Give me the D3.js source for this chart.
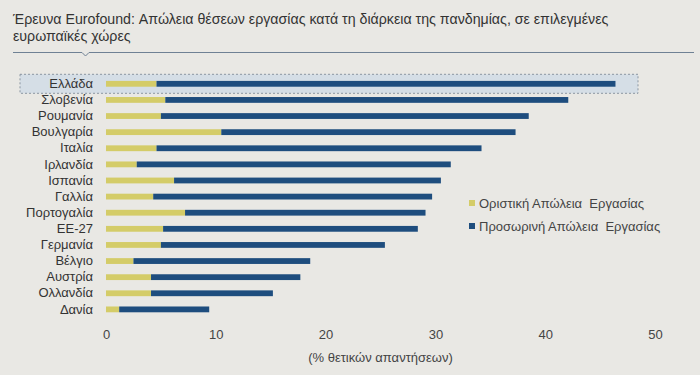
<!DOCTYPE html>
<html>
<head>
<meta charset="utf-8">
<script src="https://cdn.jsdelivr.net/npm/d3@7"></script>
<style>
  body { margin: 0; background: #e9e8e4; }
  svg { display: block; font-family: "Liberation Sans", Arial, sans-serif; }
</style>
</head>
<body>
<svg id="chart" width="700" height="375"></svg>
<script>
// data
var countries = ["Ελλάδα", "Σλοβενία", "Ρουμανία", "Βουλγαρία", "Ιταλία", "Ιρλανδία", "Ισπανία",
                 "Γαλλία", "Πορτογαλία", "ΕΕ-27", "Γερμανία", "Βέλγιο", "Αυστρία", "Ολλανδία", "Δανία"];
var permanent = [4.6, 5.4, 5.0, 10.5, 4.6, 2.8, 6.2, 4.3, 7.2, 5.2, 5.0, 2.5, 4.1, 4.1, 1.2];
var temporary = [41.8, 36.7, 33.5, 26.8, 29.6, 28.6, 24.3, 25.4, 21.9, 23.2, 20.4, 16.1, 13.6, 11.1, 8.2];
var seriesNames = ["Οριστική Απώλεια  Εργασίας", "Προσωρινή Απώλεια  Εργασίας"];
var xTicks = [0, 10, 20, 30, 40, 50];
var titleLines = ["Έρευνα Eurofound: Απώλεια θέσεων εργασίας κατά τη διάρκεια της πανδημίας, σε επιλεγμένες",
                  "ευρωπαϊκές χώρες"];
var xLabel = "(% θετικών απαντήσεων)";
var highlight = "Ελλάδα";

var colors = ["#d4cc68", "#1e4d7e"];

var svg = d3.select("#chart");

// title
svg.selectAll("text.title").data(titleLines).enter().append("text")
  .attr("class", "title")
  .attr("x", 13)
  .attr("y", function(d, i) { return 24 + i * 17; })
  .style("font-size", "14.2px")
  .style("fill", "#333")
  .text(function(d) { return d; });

// rule under title with small notch
svg.append("path")
  .attr("d", "M13,52.5 H82 L85.5,56 L89,52.5 H694")
  .style("fill", "none")
  .style("stroke", "#6f8194")
  .style("stroke-width", 1);

var x = d3.scaleLinear().domain([0, 50]).range([106, 655]);
var y = d3.scaleBand().domain(countries).range([70.6, 322.6]).padding(0.64);

var rows = countries.map(function(c, i) {
  return { name: c, p: permanent[i], t: temporary[i] };
});

// highlight box
svg.append("rect")
  .attr("x", 20).attr("y", y(highlight) + y.bandwidth() / 2 - 9.5)
  .attr("width", 618).attr("height", 19)
  .style("fill", "#d5dee6")
  .style("stroke", "#8b96a2")
  .style("stroke-dasharray", "2,2")
  .style("stroke-width", 1);

// bars
var g = svg.append("g");
g.selectAll("rect.p").data(rows).enter().append("rect")
  .attr("class", "p")
  .attr("x", x(0))
  .attr("y", function(d) { return y(d.name); })
  .attr("width", function(d) { return x(d.p) - x(0); })
  .attr("height", y.bandwidth())
  .style("fill", colors[0]);

g.selectAll("rect.t").data(rows).enter().append("rect")
  .attr("class", "t")
  .attr("x", function(d) { return x(d.p); })
  .attr("y", function(d) { return y(d.name); })
  .attr("width", function(d) { return x(d.p + d.t) - x(d.p); })
  .attr("height", y.bandwidth())
  .style("fill", colors[1]);

// category labels
var yAxis = svg.append("g")
  .attr("transform", "translate(99,0)")
  .call(d3.axisLeft(y).tickSize(0).tickPadding(6));
yAxis.select(".domain").remove();
yAxis.selectAll("text")
  .style("font-size", "13px")
  .style("fill", "#333")
  .style("font-family", "Liberation Sans, Arial, sans-serif");

// x axis
var xAxis = svg.append("g")
  .attr("transform", "translate(0,330)")
  .call(d3.axisBottom(x).tickValues(xTicks).tickSize(0).tickPadding(0));
xAxis.select(".domain").remove();
xAxis.selectAll("text")
  .style("font-size", "13px")
  .style("fill", "#444")
  .style("font-family", "Liberation Sans, Arial, sans-serif");

svg.append("text")
  .attr("x", x(25)).attr("y", 362)
  .attr("text-anchor", "middle")
  .style("font-size", "13px")
  .style("fill", "#444")
  .text(xLabel);

// legend
var leg = svg.selectAll("g.leg").data(seriesNames).enter().append("g")
  .attr("class", "leg")
  .attr("transform", function(d, i) { return "translate(469," + (203 + i * 23) + ")"; });
leg.append("rect")
  .attr("x", 0).attr("y", -3).attr("width", 6).attr("height", 6)
  .style("fill", function(d, i) { return colors[i]; });
leg.append("text")
  .attr("x", 10).attr("dy", "0.35em")
  .style("font-size", "13px")
  .style("fill", "#444")
  .style("white-space", "pre")
  .text(function(d) { return d; });
</script>
</body>
</html>
